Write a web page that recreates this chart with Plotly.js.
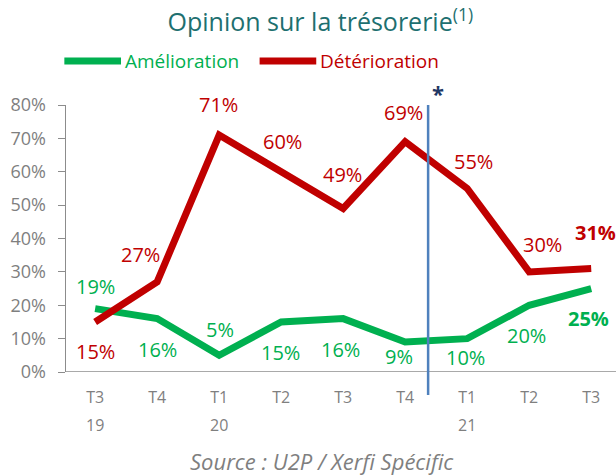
<!DOCTYPE html>
<html><head><meta charset="utf-8">
<script src="https://cdn.plot.ly/plotly-3.0.1.min.js"></script>
<style>html,body{margin:0;padding:0;background:#fff}#chart{width:616px;height:475px}</style>
</head><body><div id="chart"></div>
<script>
const quarters = ["T3","T4","T1","T2","T3","T4","T1","T2","T3"];
const years = ["19","","20","","","","21","",""];
const amelioration = [19,16,5,15,16,9,10,20,25];
const deterioration = [15,27,71,60,49,69,55,30,31];
const ameliorationLabels = ["19%","16%","5%","15%","16%","9%","10%","20%","25%"];
const deteriorationLabels = ["15%","27%","71%","60%","49%","69%","55%","30%","31%"];
const seriesNames = ["Amélioration","Détérioration"];
// label offsets (px) relative to each point
const ameOff = [[0,22],[0,-31],[1,26],[-1,-31],[-3,-31],[-6,-15],[-2,-19],[-3,-30],[-3,-30]];
const detOff = [[0,-30],[-17,27],[-1,31],[1,30],[-1,34],[-2,29],[6,27],[13,27],[4,36]];
const GREEN = "#00B050", RED = "#C00000", GREY = "#7F7F7F", AXIS = "#8C8C8C";
const xs = quarters.map((_, i) => i);
const FONT = "'Open Sans', sans-serif";
const LABEL_SIZE = 20;

const traces = [
  {x: xs, y: amelioration, type: "scatter", mode: "lines", name: seriesNames[0],
   line: {color: GREEN, width: 7}, showlegend: false},
  {x: xs, y: deterioration, type: "scatter", mode: "lines", name: seriesNames[1],
   line: {color: RED, width: 7}, showlegend: false}
];

const annotations = [];
amelioration.forEach((v, i) => annotations.push({x: i, y: v, xref: "x", yref: "y",
  text: ameliorationLabels[i], showarrow: false, xshift: ameOff[i][0], yshift: ameOff[i][1],
  font: {family: FONT, size: LABEL_SIZE, color: GREEN, weight: i === 8 ? 700 : 400}}));
deterioration.forEach((v, i) => annotations.push({x: i, y: v, xref: "x", yref: "y",
  text: deteriorationLabels[i], showarrow: false, xshift: detOff[i][0], yshift: detOff[i][1],
  font: {family: FONT, size: LABEL_SIZE, color: RED, weight: i === 8 ? 700 : 400}}));
years.forEach((yr, i) => { if (yr) annotations.push({x: i, y: 0, xref: "x", yref: "paper",
  yanchor: "middle", text: yr, showarrow: false, yshift: -53, font: {family: FONT, size: 16, color: GREY}}); });
// star marker above the break line
annotations.push({xref: "x", yref: "paper", x: 5.37, y: 1, yanchor: "middle", text: "*", showarrow: false,
  xshift: 10, yshift: 12, font: {family: FONT, size: 22, color: "#1F3864", weight: 700}});
// legend (drawn manually so each label takes its series colour)
annotations.push({xref: "paper", yref: "paper", x: 0.103, y: 1.165, xanchor: "left", yanchor: "middle",
  text: seriesNames[0], showarrow: false, font: {family: FONT, size: 19, color: GREEN}});
annotations.push({xref: "paper", yref: "paper", x: 0.458, y: 1.165, xanchor: "left", yanchor: "middle",
  text: seriesNames[1], showarrow: false, font: {family: FONT, size: 19, color: RED}});
annotations.push({xref: "paper", yref: "paper", x: 0.465, y: -0.333, yanchor: "middle",
  text: "<i>Source : U2P / Xerfi Spécific</i>",
  showarrow: false, font: {family: FONT, size: 22, color: GREY}});

const layout = {
  width: 616, height: 475,
  margin: {l: 66, r: 0, t: 105, b: 103},
  paper_bgcolor: "#fff", plot_bgcolor: "#fff",
  title: {text: "Opinion sur la trésorerie<sup>(1)</sup>", x: 0.52, xanchor: "center", y: 0.953, yanchor: "middle",
    font: {family: FONT, size: 25, color: "#1E7070"}},
  showlegend: false,
  xaxis: {range: [-0.47, 8.4], tickvals: xs, ticktext: quarters, showgrid: false, zeroline: false,
    showline: false, ticks: "", ticklabelstandoff: 14, tickfont: {family: FONT, size: 16, color: GREY}},
  yaxis: {range: [0, 80], dtick: 10, ticksuffix: "%", showgrid: false, zeroline: false,
    showline: true, linecolor: AXIS, linewidth: 1.5, ticks: "outside", ticklen: 7, tickcolor: AXIS,
    ticklabelstandoff: 8, tickfont: {family: FONT, size: 18, color: GREY}},
  shapes: [
    {type: "line", xref: "paper", yref: "y", x0: 0, x1: 1, y0: 0, y1: 0, line: {color: AXIS, width: 1.5}},
    {type: "line", xref: "x", yref: "paper", x0: 5.37, x1: 5.37, y0: -0.086, y1: 1, line: {color: "#4F81BD", width: 2.5}},
    {type: "line", xref: "paper", yref: "paper", x0: -0.003, x1: 0.1, y0: 1.165, y1: 1.165, line: {color: GREEN, width: 7}},
    {type: "line", xref: "paper", yref: "paper", x0: 0.352, x1: 0.455, y0: 1.165, y1: 1.165, line: {color: RED, width: 7}}
  ],
  annotations: annotations
};
Plotly.newPlot("chart", traces, layout, {displayModeBar: false, staticPlot: true});
</script></body></html>
